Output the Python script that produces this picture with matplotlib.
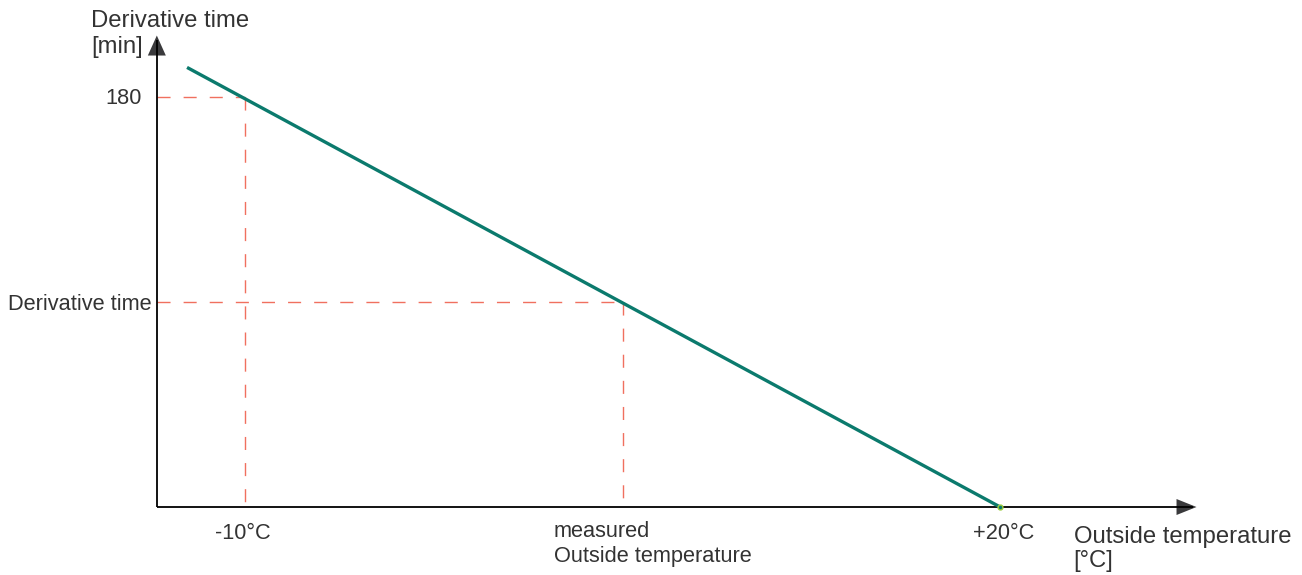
import matplotlib.pyplot as plt
from matplotlib.patches import Polygon

# curve: derivative time vs outside temperature
line_temp = [-12.3, 20]
line_time = [193, 0]

# reference points (dashed guides)
guide_temp = [-10, 5]
guide_time = [180, 90]

tick_labels_x = ['-10°C', 'measured', 'Outside temperature', '+20°C']
tick_labels_y = ['180', 'Derivative time']

# axis extent
x0, x_end = -13.5, 27.8
y0, y_end = 0, 207

W, H, DPI = 1302, 575, 100
PT = DPI / 72  # px per point
text_col = '#333333'
fs_tick = 15.7
fs_title = 17.2

plt.rcParams['font.family'] = ['Liberation Sans', 'DejaVu Sans']

fig = plt.figure(figsize=(W / DPI, H / DPI), dpi=DPI)
ax = fig.add_axes([0, 0, 1, 1])
ax.set_xlim(-19.73, 31.99)
ax.set_ylim(-29.85, 222.6)
ax.axis('off')

# pixels per data unit
px_x = W / (31.99 + 19.73)
px_y = H / (222.6 + 29.85)


def label(text, anchor, dx, dy, ha='left', fs=fs_tick):
    # dx, dy given in pixels relative to the anchor, y up
    ax.annotate(text, anchor, xytext=(dx / PT, dy / PT), textcoords='offset points',
                ha=ha, va='baseline', fontsize=fs, color=text_col)


# axis lines
ax.plot([x0, x_end - 4 / px_x], [y0, y0], color='black', lw=1.3, solid_capstyle='butt')
ax.plot([x0, x0], [y0, y_end - 4 / px_y], color='black', lw=1.3, solid_capstyle='butt')

# arrow heads
ax.add_patch(Polygon([(x0, y_end), (x0 - 9 / px_x, y_end - 20 / px_y), (x0 + 9 / px_x, y_end - 20 / px_y)],
                     closed=True, color='#3a3a3c', lw=0))
ax.add_patch(Polygon([(x_end, y0), (x_end - 20 / px_x, y0 + 8 / px_y), (x_end - 20 / px_x, y0 - 8 / px_y)],
                     closed=True, color='#3a3a3c', lw=0))

# dashed guides
for t, v in zip(guide_temp, guide_time):
    ax.plot([x0, t], [v, v], color='#f0705f', lw=1, dashes=(9.4, 9.4), zorder=1)
    ax.plot([t, t], [v, y0], color='#f0705f', lw=1, dashes=(9.4, 9.4), zorder=1)

# main line
ax.plot(line_temp, line_time, color='#0b7a6d', lw=2.4, solid_capstyle='butt', zorder=3)
ax.plot(line_temp[-1], line_time[-1], 'o', ms=3.5, mfc='#0b7a6d', mec='#9ccc3c', mew=1, zorder=4)

# y tick labels
label(tick_labels_y[0], (x0, guide_time[0]), -15, -7, ha='right')
label(tick_labels_y[1], (x0, guide_time[1]), -5, -8, ha='right')

# x tick labels
label(tick_labels_x[0], (guide_temp[0], y0), -2, -32, ha='center')
label(tick_labels_x[1], (guide_temp[1], y0), -69, -30)
label(tick_labels_x[2], (guide_temp[1], y0), -69, -55)
label(tick_labels_x[3], (line_temp[-1], y0), 3.5, -32, ha='center')

# axis titles
label('Derivative time', (x0, y_end), -66, 9, fs=fs_title)
label('[min]', (x0, y_end), -66, -17, fs=fs_title)
label('Outside temperature', (x_end, y0), -123, -36, fs=fs_title)
label('[°C]', (x_end, y0), -123, -60, fs=fs_title)

fig.savefig('out.png', dpi=DPI)
